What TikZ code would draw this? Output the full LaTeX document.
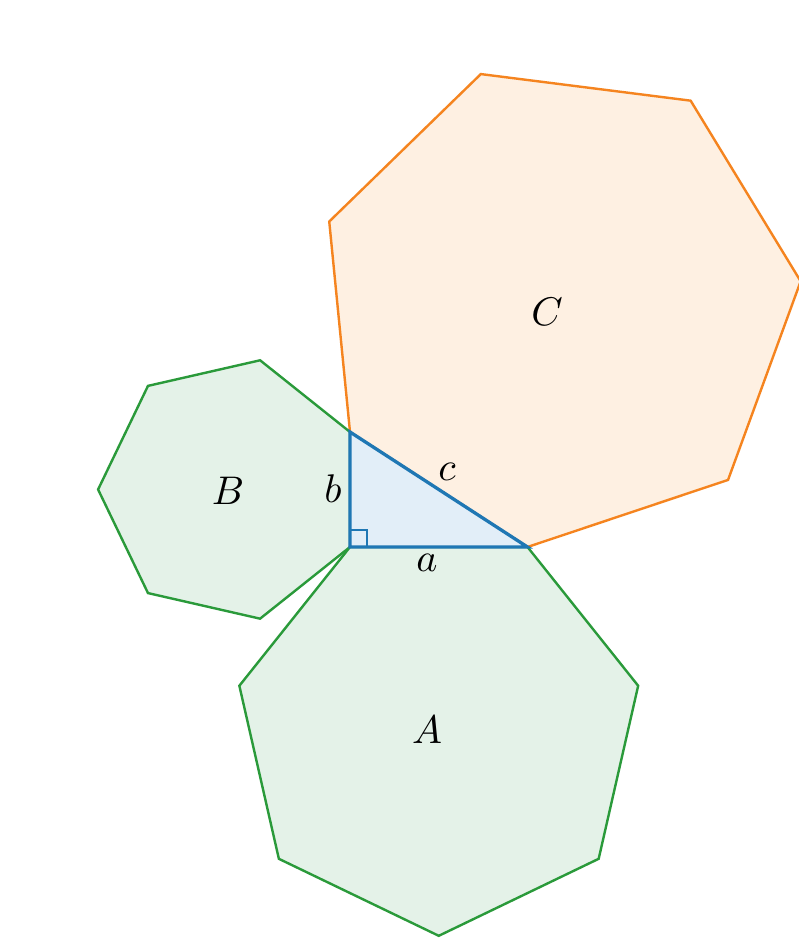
\documentclass[tikz,border=0pt]{standalone}
\usetikzlibrary{calc}
\definecolor{tabblue}{HTML}{1F77B4}
\definecolor{taborange}{HTML}{F5841F}
\definecolor{tabgreen}{HTML}{2A9A3A}
\definecolor{fillblue}{HTML}{E2EEF8}
\definecolor{fillorange}{HTML}{FEF0E2}
\definecolor{fillgreen}{HTML}{E4F2E8}
\tikzset{
  greenhept/.style={draw=tabgreen, fill=fillgreen, line width=2.4pt, line join=miter},
  orangehept/.style={draw=taborange, fill=fillorange, line width=2.4pt, line join=miter},
  tri/.style={draw=tabblue, fill=fillblue, line width=3.3pt, line join=miter},
  lbl/.style={scale=4, inner sep=0pt}
}
\begin{document}
\begin{tikzpicture}[x=1pt,y=1pt]
\useasboundingbox (0,0) rectangle (799,941);
\fill[white] (0,0) rectangle (799,941);
\coordinate (Cr) at (350,394);
\coordinate (Tb) at (350,509);
\coordinate (Ra) at (527.5,394);
% heptagon C on hypotenuse
\draw[orangehept] (Ra) -- (Tb) -- ([turn]-51.4286:211.5) -- ([turn]-51.4286:211.5) -- ([turn]-51.4286:211.5) -- ([turn]-51.4286:211.5) -- ([turn]-51.4286:211.5) -- cycle;
% heptagon B on side b
\draw[greenhept] (Cr) -- (Tb) -- ([turn]51.4286:115) -- ([turn]51.4286:115) -- ([turn]51.4286:115) -- ([turn]51.4286:115) -- ([turn]51.4286:115) -- cycle;
% heptagon A on side a
\draw[greenhept] (Cr) -- (Ra) -- ([turn]-51.4286:177.5) -- ([turn]-51.4286:177.5) -- ([turn]-51.4286:177.5) -- ([turn]-51.4286:177.5) -- ([turn]-51.4286:177.5) -- cycle;
% triangle
\draw[tri] (Cr) -- (Ra) -- (Tb) -- cycle;
\draw[tabblue, line width=1.2pt] ($(Cr)+(17,0)$) -- ($(Cr)+(17,17)$) -- ($(Cr)+(0,17)$);
% labels
\node[lbl] (lA) at (427,211) {$A$};
\node[lbl] (lB) at (228,450) {$B$};
\node[lbl] (lC) at (547,629) {$C$};
\node[lbl] (lb) at (333,452) {$b$};
\node[lbl] (lc) at (447,469) {$c$};
\node[lbl] (la) at (427,378) {$a$};
\end{tikzpicture}
\end{document}
